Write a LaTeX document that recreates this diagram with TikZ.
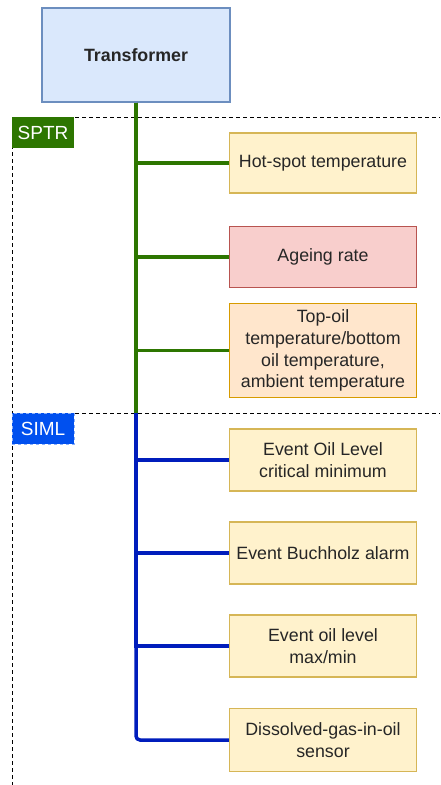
\documentclass[tikz,border=0pt]{standalone}
\usepackage{fontspec}
\setmainfont{Liberation Sans}
\definecolor{tfFill}{HTML}{DAE8FC}
\definecolor{tfLine}{HTML}{6C8EBF}
\definecolor{yFill}{HTML}{FFF2CC}
\definecolor{yLine}{HTML}{D6B656}
\definecolor{rFill}{HTML}{F8CECC}
\definecolor{rLine}{HTML}{B85450}
\definecolor{oFill}{HTML}{FFE6CC}
\definecolor{oLine}{HTML}{D79B00}
\definecolor{grn}{HTML}{2D7600}
\definecolor{blu}{HTML}{0050EF}
\definecolor{bluLine}{HTML}{001DBC}
\begin{document}
\begin{tikzpicture}[x=1pt,y=-1pt,
  txt/.style={font=\fontsize{17.8}{21.8}\selectfont, text=black!85},
  box/.style={txt, draw, line width=1.2pt, minimum width=187pt, minimum height=62pt,
    align=center, inner sep=0pt},
  ybox/.style={box, fill=yFill, draw=yLine},
  tag/.style={font=\fontsize{19}{22}\selectfont, text=white, minimum width=62pt,
    minimum height=31pt, inner sep=0pt},
  gline/.style={draw=grn, line width=3.5pt},
  bline/.style={draw=bluLine, line width=3.5pt},
  sep/.style={draw=black, line width=0.8pt, dash pattern=on 4pt off 3pt}]
\useasboundingbox (0,0) rectangle (440,785);

% section separators
\draw[sep] (12,117) -- (440,117);
\draw[sep] (12,413) -- (440,413);
\draw[sep] (12,117) -- (12,785);

% nodes
\node[box, fill=tfFill, draw=tfLine, minimum width=188pt, minimum height=94pt,
  font=\fontsize{17.8}{21.8}\selectfont\bfseries] (tf) at (136,55) {Transformer};

\node[ybox, minimum height=60pt] (hs) at (323,163) {Hot-spot temperature};
\node[box, fill=rFill, draw=rLine, minimum height=61pt] (ar) at (323,257) {Ageing rate};
\node[box, fill=oFill, draw=oLine, minimum height=94pt] (to) at (323,350.5)
  {Top-oil\\temperature/bottom\\oil temperature,\\ambient temperature};

\node[ybox] (ol) at (323,460) {Event Oil Level\\critical minimum};
\node[ybox] (bu) at (323,553) {Event Buchholz alarm};
\node[ybox] (mm) at (323,646) {Event oil level\\max/min};
\node[ybox, minimum height=63pt] (dg) at (323,740) {Dissolved-gas-in-oil\\sensor};

\node[tag, fill=grn] (sptr) at (43,132.5) {SPTR};
\node[tag, fill=blu, draw=blu!45, dashed, line width=0.8pt] (siml) at (43,428.5) {SIML};

\coordinate (split) at (136,413);

% SPTR connectors
\draw[gline] (tf.south) -- (split);
\draw[gline] (tf.south) |- (hs.west);
\draw[gline] (tf.south) |- (ar.west);
\draw[gline] (tf.south) |- (to.west);

% SIML connectors
\draw[bline] (split) |- (ol.west);
\draw[bline] (split) |- (bu.west);
\draw[bline] (split) |- (mm.west);
\draw[bline, rounded corners=4pt] (split) |- (dg.west);
\end{tikzpicture}
\end{document}
